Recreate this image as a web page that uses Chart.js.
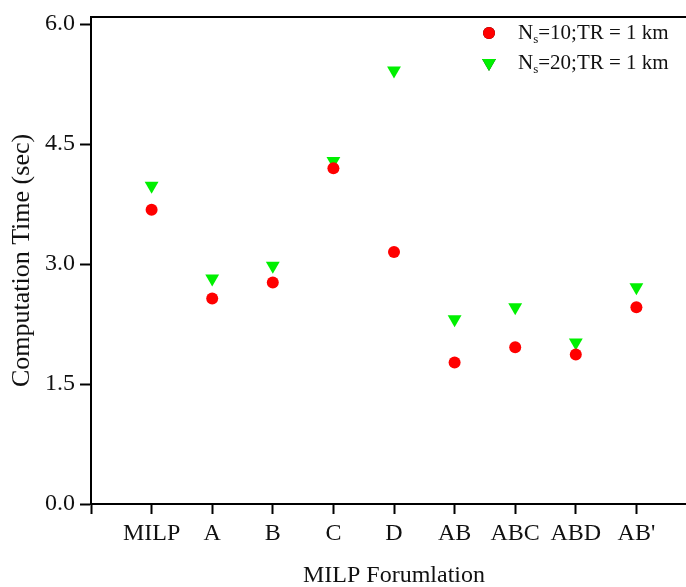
<!DOCTYPE html>
<html>
<head>
<meta charset="utf-8">
<script src="https://cdn.jsdelivr.net/npm/chart.js@4/dist/chart.umd.min.js"></script>
<style>
  html, body { margin: 0; padding: 0; background: #fff; overflow: hidden; }
  #wrap { width: 705px; height: 587px; position: relative; }
</style>
</head>
<body>
<div id="wrap"><canvas id="chart"></canvas></div>
<script>
// Data
const categories = ["MILP", "A", "B", "C", "D", "AB", "ABC", "ABD", "AB'"]
const ns10Times = [3.68, 2.57, 2.77, 4.20, 3.15, 1.77, 1.96, 1.87, 2.46]
const ns20Times = [3.98, 2.82, 2.98, 4.29, 5.42, 2.31, 2.46, 2.02, 2.71]
const yTicks = [0, 1.5, 3.0, 4.5, 6.0]

const serif = "'Liberation Serif', 'Times New Roman', serif"

const toPoints = (vals) => vals.map((v, i) => ({ x: i + 1, y: v }))

// top frame line
const topLine = {
  id: "topLine",
  afterDraw(chart) {
    const { ctx, chartArea } = chart
    ctx.save()
    ctx.strokeStyle = "#000"
    ctx.lineWidth = 2
    ctx.beginPath()
    ctx.moveTo(chartArea.left, chartArea.top)
    ctx.lineTo(chartArea.right, chartArea.top)
    ctx.stroke()
    ctx.restore()
  },
}

// legend with subscript "s"
const subLegend = {
  id: "subLegend",
  afterDraw(chart) {
    const { ctx, chartArea } = chart
    const items = [
      { ds: 0, num: "10" },
      { ds: 1, num: "20" },
    ]
    ctx.save()
    items.forEach((item, i) => {
      const ds = chart.data.datasets[item.ds]
      const mx = chartArea.left + 398
      const my = chartArea.top + 16 + i * 30
      Chart.helpers.drawPoint(ctx, {
        pointStyle: ds.pointStyle,
        rotation: ds.rotation || 0,
        radius: ds.pointRadius,
        borderWidth: 0,
      }, mx, my)
      ctx.fillStyle = ds.backgroundColor
      ctx.fill()
      ctx.fillStyle = "#111"
      ctx.textBaseline = "alphabetic"
      let tx = mx + 29
      const base = my + 6
      ctx.font = "21px " + serif
      ctx.fillText("N", tx, base)
      tx += ctx.measureText("N").width
      ctx.font = "13px " + serif
      ctx.fillText("s", tx, base + 4)
      tx += ctx.measureText("s").width
      ctx.font = "21px " + serif
      ctx.fillText("=" + item.num + ";TR = 1 km", tx, base)
    })
    ctx.restore()
  },
}

const chart = new Chart(document.getElementById("chart"), {
  type: "scatter",
  data: {
    datasets: [
      {
        label: "Ns=10;TR = 1 km",
        data: toPoints(ns10Times),
        pointStyle: "circle",
        pointRadius: 6,
        pointBorderWidth: 0,
        backgroundColor: "#ff0000",
        borderColor: "#ff0000",
      },
      {
        label: "Ns=20;TR = 1 km",
        data: toPoints(ns20Times),
        pointStyle: "triangle",
        rotation: 180,
        pointRotation: 180,
        pointRadius: 8,
        pointBorderWidth: 0,
        backgroundColor: "#00f000",
        borderColor: "#00f000",
      },
    ],
  },
  options: {
    responsive: true,
    maintainAspectRatio: false,
    animation: false,
    layout: { padding: { top: 0, right: 3, left: 0, bottom: 0 } },
    plugins: {
      legend: { display: false },
      tooltip: { enabled: false },
    },
    scales: {
      x: {
        type: "linear",
        min: 0,
        max: 10,
        afterFit: (scale) => { scale.height = 83 },
        afterBuildTicks: (scale) => {
          scale.ticks = categories.map((c, i) => ({ value: i + 1 }))
          scale.ticks.unshift({ value: 0 })
        },
        ticks: {
          color: "#111",
          font: { family: serif, size: 24 },
          padding: 5,
          callback: (v) => categories[v - 1] || "",
        },
        grid: {
          drawOnChartArea: false,
          tickLength: 10,
          tickWidth: 2,
          tickColor: "#000",
        },
        border: { color: "#000", width: 2 },
        title: {
          display: true,
          text: "MILP Forumlation",
          color: "#111",
          font: { family: serif, size: 24 },
          padding: { top: 4, bottom: -3 },
        },
      },
      y: {
        min: 0,
        max: 6.09,
        afterFit: (scale) => { scale.width = 91 },
        afterBuildTicks: (scale) => {
          scale.ticks = yTicks.map((v) => ({ value: v }))
        },
        ticks: {
          color: "#111",
          font: { family: serif, size: 24, lineHeight: 1.0 },
          padding: 5,
          callback: (v) => v.toFixed(1),
        },
        grid: {
          drawOnChartArea: false,
          tickLength: 11,
          tickWidth: 2,
          tickColor: "#000",
        },
        border: { color: "#000", width: 2 },
        title: {
          display: true,
          text: "Computation Time (sec)",
          color: "#111",
          font: { family: serif, size: 26 },
          padding: { top: 7, bottom: 0 },
        },
      },
    },
  },
  plugins: [topLine, subLegend],
})
</script>
</body>
</html>
